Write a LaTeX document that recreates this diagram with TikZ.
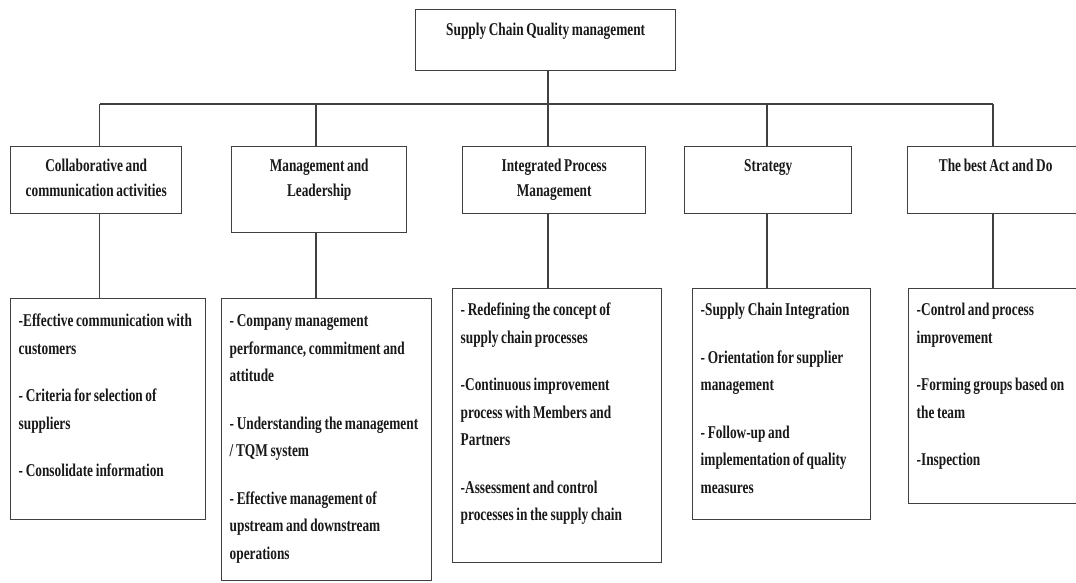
\documentclass[tikz,border=0pt]{standalone}
\usepackage{fontspec}
\setmainfont{Liberation Serif}[FakeStretch=0.74, WordSpace=0.8]
\hyphenpenalty=10000
\usetikzlibrary{
  positioning,
  calc
}

\begin{document}
\begin{tikzpicture}[
    x=1pt,y=-1pt,
    line width=1.4pt,
    link/.style={
      draw=black!75
    },
    root/.style={
      draw=black!75,
      fill=white,
      anchor=north west,
      inner sep=0pt,
      align=flush center,
      text=black!90,
      font=\bfseries\fontsize{18}{25}\selectfont,
      text width=260pt,
      text height=26pt,
      text depth=35pt
    },
    heading/.style={
      draw=black!75,
      fill=white,
      anchor=north west,
      inner xsep=4pt,
      inner ysep=0pt,
      align=flush center,
      text=black!90,
      font=\bfseries\fontsize{18}{25}\selectfont,
      text height=25pt,
      text depth=42pt
    },
    detail/.style={
      draw=black!75,
      fill=white,
      anchor=north west,
      inner xsep=8pt,
      inner ysep=0pt,
      align=flush left,
      text=black!90,
      font=\bfseries\fontsize{18}{27.5}\selectfont,
      text height=28pt
    }
  ]
  \newcommand{\itemGap}{20pt}
  \useasboundingbox (0,0) rectangle (1076,582);

  % Root
  \node[root] (root) at (415,9) {Supply Chain Quality management};

  % Headings
  \node[heading, text width=163pt] (head1) at (10,146) {Collaborative and\\communication activities};
  \node[heading, text width=167pt, text depth=61pt] (head2) at (231,146) {Management and\\Leadership};
  \node[heading, text width=175pt] (head3) at (462,146) {Integrated Process\\Management};
  \node[heading, text width=159pt] (head4) at (684,146) {Strategy};
  \node[heading, text width=168pt] (head5) at (907,146) {The best Act and Do};

  % Details
  \node[detail, text width=179pt, text depth=193pt] (detail1) at (10,298) {%
    -Effective communication with\\customers\\[\itemGap]
    - Criteria for selection of\\suppliers\\[\itemGap]
    - Consolidate information};
  \node[detail, text width=194pt, text depth=254pt] (detail2) at (221,298) {%
    - Company management\\performance, commitment and\\attitude\\[\itemGap]
    - Understanding the management\\/ TQM system\\[\itemGap]
    - Effective management of\\upstream and downstream\\operations};
  \node[detail, text width=193pt, text depth=247pt, text height=27pt] (detail3) at (452,288) {%
    - Redefining the concept of\\supply chain processes\\[\itemGap]
    -Continuous improvement\\process with Members and\\Partners\\[\itemGap]
    -Assessment and control\\processes in the supply chain};
  \node[detail, text width=162pt, text depth=204pt, text height=27pt] (detail4) at (692,288) {%
    -Supply Chain Integration\\[\itemGap]
    - Orientation for supplier\\management\\[\itemGap]
    - Follow-up and\\implementation of quality\\measures};
  \node[detail, text width=158pt, text depth=188pt, text height=27pt] (detail5) at (908,288) {%
    -Control and process\\improvement\\[\itemGap]
    -Forming groups based on\\the team\\[\itemGap]
    -Inspection};

  % Bus
  \coordinate (bus1) at (99.5,104);
  \coordinate (bus2) at (316,104);
  \coordinate (bus3) at (548,104);
  \coordinate (bus4) at (767,104);
  \coordinate (bus5) at (993,104);

  % Connections
  \draw[link] (root.south -| bus3) -- (bus3);
  \draw[link] (bus1) -- (bus5);
  \foreach \i in {1,...,5}{
    \draw[link] (bus\i) -- (head\i.north -| bus\i);
    \draw[link] (head\i.south -| bus\i) -- (detail\i.north -| bus\i);
  }
\end{tikzpicture}
\end{document}
